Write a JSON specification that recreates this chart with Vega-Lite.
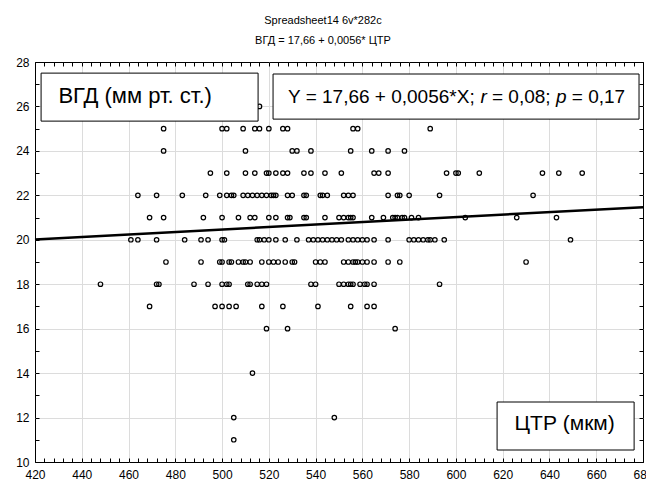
{
  "$schema": "https://vega.github.io/schema/vega-lite/v6.json",
  "width": 608,
  "height": 400,
  "autosize": {"type": "none"},
  "padding": {"left": 35, "top": 62, "right": 3, "bottom": 20},
  "config": {
    "font": "Liberation Sans",
    "view": {"stroke": "#000000", "strokeWidth": 1},
    "axis": {"domain": false, "labelFont": "Liberation Sans", "labelFontSize": 12, "labelColor": "#000000", "tickColor": "#000000", "gridColor": "#dcdcdc", "title": null}
  },
  "title": {
    "text": ["Spreadsheet14 6v*282c", "ВГД = 17,66 + 0,0056* ЦТР"],
    "font": "Liberation Sans",
    "fontSize": 11,
    "fontWeight": "normal",
    "color": "#000000",
    "lineHeight": 20,
    "anchor": "middle",
    "dx": -16,
    "offset": 10
  },
  "datasets": {
    "pts": [
      {"x":516,"y":26},
      {"x":475,"y":25},{"x":500,"y":25},{"x":502,"y":25},{"x":509,"y":25},{"x":514,"y":25},{"x":516,"y":25},{"x":520,"y":25},{"x":526,"y":25},{"x":528,"y":25},{"x":556,"y":25},{"x":558,"y":25},{"x":589,"y":25},
      {"x":475,"y":24},{"x":510,"y":24},{"x":530,"y":24},{"x":532,"y":24},{"x":538,"y":24},{"x":555,"y":24},{"x":564,"y":24},{"x":571,"y":24},{"x":578,"y":24},
      {"x":495,"y":23},{"x":502,"y":23},{"x":510,"y":23},{"x":514,"y":23},{"x":519,"y":23},{"x":520,"y":23},{"x":523,"y":23},{"x":526,"y":23},{"x":528,"y":23},{"x":535,"y":23},{"x":538,"y":23},{"x":544,"y":23},{"x":551,"y":23},{"x":565,"y":23},{"x":567,"y":23},{"x":571,"y":23},{"x":596,"y":23},{"x":600,"y":23},{"x":601,"y":23},{"x":610,"y":23},{"x":637,"y":23},{"x":644,"y":23},{"x":654,"y":23},
      {"x":464,"y":22},{"x":472,"y":22},{"x":483,"y":22},{"x":493,"y":22},{"x":499,"y":22},{"x":502,"y":22},{"x":504,"y":22},{"x":505,"y":22},{"x":509,"y":22},{"x":511,"y":22},{"x":513,"y":22},{"x":515,"y":22},{"x":517,"y":22},{"x":519,"y":22},{"x":521,"y":22},{"x":522,"y":22},{"x":523,"y":22},{"x":528,"y":22},{"x":530,"y":22},{"x":535,"y":22},{"x":536,"y":22},{"x":542,"y":22},{"x":543,"y":22},{"x":545,"y":22},{"x":552,"y":22},{"x":554,"y":22},{"x":556,"y":22},{"x":571,"y":22},{"x":575,"y":22},{"x":576,"y":22},{"x":580,"y":22},{"x":593,"y":22},{"x":633,"y":22},
      {"x":469,"y":21},{"x":475,"y":21},{"x":492,"y":21},{"x":500,"y":21},{"x":507,"y":21},{"x":512,"y":21},{"x":514,"y":21},{"x":520,"y":21},{"x":523,"y":21},{"x":528,"y":21},{"x":529,"y":21},{"x":535,"y":21},{"x":536,"y":21},{"x":544,"y":21},{"x":550,"y":21},{"x":552,"y":21},{"x":554,"y":21},{"x":555,"y":21},{"x":556,"y":21},{"x":564,"y":21},{"x":569,"y":21},{"x":573,"y":21},{"x":574,"y":21},{"x":575,"y":21},{"x":577,"y":21},{"x":578,"y":21},{"x":581,"y":21},{"x":584,"y":21},{"x":604,"y":21},{"x":626,"y":21},{"x":643,"y":21},
      {"x":461,"y":20},{"x":464,"y":20},{"x":472,"y":20},{"x":484,"y":20},{"x":491,"y":20},{"x":494,"y":20},{"x":500,"y":20},{"x":501,"y":20},{"x":515,"y":20},{"x":516,"y":20},{"x":518,"y":20},{"x":520,"y":20},{"x":523,"y":20},{"x":527,"y":20},{"x":532,"y":20},{"x":537,"y":20},{"x":539,"y":20},{"x":541,"y":20},{"x":543,"y":20},{"x":545,"y":20},{"x":547,"y":20},{"x":549,"y":20},{"x":551,"y":20},{"x":554,"y":20},{"x":556,"y":20},{"x":558,"y":20},{"x":560,"y":20},{"x":562,"y":20},{"x":565,"y":20},{"x":571,"y":20},{"x":580,"y":20},{"x":582,"y":20},{"x":584,"y":20},{"x":586,"y":20},{"x":588,"y":20},{"x":589,"y":20},{"x":591,"y":20},{"x":595,"y":20},{"x":649,"y":20},
      {"x":476,"y":19},{"x":491,"y":19},{"x":499,"y":19},{"x":500,"y":19},{"x":503,"y":19},{"x":504,"y":19},{"x":507,"y":19},{"x":509,"y":19},{"x":510,"y":19},{"x":512,"y":19},{"x":517,"y":19},{"x":520,"y":19},{"x":522,"y":19},{"x":524,"y":19},{"x":527,"y":19},{"x":530,"y":19},{"x":531,"y":19},{"x":540,"y":19},{"x":542,"y":19},{"x":544,"y":19},{"x":552,"y":19},{"x":554,"y":19},{"x":556,"y":19},{"x":557,"y":19},{"x":558,"y":19},{"x":560,"y":19},{"x":562,"y":19},{"x":565,"y":19},{"x":571,"y":19},{"x":576,"y":19},{"x":630,"y":19},
      {"x":448,"y":18},{"x":472,"y":18},{"x":473,"y":18},{"x":488,"y":18},{"x":494,"y":18},{"x":500,"y":18},{"x":502,"y":18},{"x":503,"y":18},{"x":511,"y":18},{"x":512,"y":18},{"x":515,"y":18},{"x":517,"y":18},{"x":519,"y":18},{"x":538,"y":18},{"x":540,"y":18},{"x":550,"y":18},{"x":552,"y":18},{"x":554,"y":18},{"x":555,"y":18},{"x":556,"y":18},{"x":559,"y":18},{"x":561,"y":18},{"x":562,"y":18},{"x":565,"y":18},{"x":593,"y":18},
      {"x":469,"y":17},{"x":497,"y":17},{"x":500,"y":17},{"x":503,"y":17},{"x":506,"y":17},{"x":517,"y":17},{"x":526,"y":17},{"x":541,"y":17},{"x":555,"y":17},{"x":562,"y":17},{"x":565,"y":17},
      {"x":519,"y":16},{"x":528,"y":16},{"x":574,"y":16},
      {"x":513,"y":14},
      {"x":505,"y":12},{"x":548,"y":12},
      {"x":505,"y":11}
    ],
    "fit": [{"x":420,"y":20.012},{"x":680,"y":21.468}],
    "one": [{}]
  },
  "resolve": {"axis": {"x": "independent", "y": "independent"}},
  "layer": [
    {
      "data": {"name": "pts"},
      "mark": {"type": "point", "shape": "circle", "filled": false, "stroke": "#000000", "strokeWidth": 1.2, "size": 20, "opacity": 1},
      "encoding": {
        "x": {"field": "x", "type": "quantitative",
          "scale": {"domain": [420, 680], "nice": false, "zero": false},
          "axis": {"orient": "bottom",
            "values": [420,424,428,432,436,440,444,448,452,456,460,464,468,472,476,480,484,488,492,496,500,504,508,512,516,520,524,528,532,536,540,544,548,552,556,560,564,568,572,576,580,584,588,592,596,600,604,608,612,616,620,624,628,632,636,640,644,648,652,656,660,664,668,672,676,680],
            "labelExpr": "datum.value % 20 === 0 ? datum.label : ''",
            "labelFlush": false, "labelOverlap": false,
            "grid": true,
            "gridOpacity": {"condition": {"test": "datum.value % 20 === 0 && datum.value > 420 && datum.value < 680", "value": 1}, "value": 0},
            "tickSize": -4, "labelPadding": 11}},
        "y": {"field": "y", "type": "quantitative",
          "scale": {"domain": [10, 28], "nice": false, "zero": false},
          "axis": {"orient": "left",
            "values": [10,11,12,13,14,15,16,17,18,19,20,21,22,23,24,25,26,27,28],
            "labelExpr": "datum.value % 2 === 0 ? datum.label : ''",
            "labelOverlap": false, "labelFlush": false,
            "grid": true,
            "gridOpacity": {"condition": {"test": "datum.value % 2 === 0 && datum.value > 10 && datum.value < 28", "value": 1}, "value": 0},
            "tickSize": -4, "labelPadding": 10}}
      }
    },
    {
      "data": {"name": "fit"},
      "mark": {"type": "line", "color": "#000000", "strokeWidth": 2.5},
      "encoding": {
        "x": {"field": "x", "type": "quantitative",
          "axis": {"orient": "top",
            "values": [420,424,428,432,436,440,444,448,452,456,460,464,468,472,476,480,484,488,492,496,500,504,508,512,516,520,524,528,532,536,540,544,548,552,556,560,564,568,572,576,580,584,588,592,596,600,604,608,612,616,620,624,628,632,636,640,644,648,652,656,660,664,668,672,676,680],
            "labels": false, "grid": false, "tickSize": -4}},
        "y": {"field": "y", "type": "quantitative",
          "axis": {"orient": "right",
            "values": [10,11,12,13,14,15,16,17,18,19,20,21,22,23,24,25,26,27,28],
            "labels": false, "grid": false, "tickSize": -4}}
      }
    },
    {
      "data": {"name": "one"},
      "mark": {"type": "rect", "fill": "#ffffff", "stroke": "#000000", "strokeWidth": 1},
      "encoding": {
        "x": {"datum": 422.6, "type": "quantitative", "axis": null},
        "x2": {"datum": 515.4},
        "y": {"datum": 27.5, "type": "quantitative", "axis": null},
        "y2": {"datum": 25.34}
      }
    },
    {
      "data": {"name": "one"},
      "mark": {"type": "rect", "fill": "#ffffff", "stroke": "#000000", "strokeWidth": 1},
      "encoding": {
        "x": {"datum": 521.8, "type": "quantitative", "axis": null},
        "x2": {"datum": 678.3},
        "y": {"datum": 27.46, "type": "quantitative", "axis": null},
        "y2": {"datum": 25.43}
      }
    },
    {
      "data": {"name": "one"},
      "mark": {"type": "rect", "fill": "#ffffff", "stroke": "#000000", "strokeWidth": 1},
      "encoding": {
        "x": {"datum": 617.6, "type": "quantitative", "axis": null},
        "x2": {"datum": 676.2},
        "y": {"datum": 12.7, "type": "quantitative", "axis": null},
        "y2": {"datum": 10.54}
      }
    },
    {
      "data": {"name": "one"},
      "mark": {"type": "text", "font": "Liberation Sans", "fontSize": 22, "align": "left", "baseline": "alphabetic", "color": "#000000"},
      "encoding": {
        "x": {"datum": 430, "type": "quantitative", "axis": null},
        "y": {"datum": 26.17, "type": "quantitative", "axis": null},
        "text": {"value": "ВГД (мм рт. ст.)"}
      }
    },
    {
      "data": {"name": "one"},
      "mark": {"type": "text", "font": "Liberation Sans", "fontSize": 19, "align": "left", "baseline": "alphabetic", "color": "#000000"},
      "encoding": {
        "x": {"datum": 528.2, "type": "quantitative", "axis": null},
        "y": {"datum": 26.15, "type": "quantitative", "axis": null},
        "text": {"value": "Y = 17,66 + 0,0056*X;"}
      }
    },
    {
      "data": {"name": "one"},
      "mark": {"type": "text", "font": "Liberation Sans", "fontSize": 19, "fontStyle": "italic", "align": "left", "baseline": "alphabetic", "color": "#000000"},
      "encoding": {
        "x": {"datum": 610.46, "type": "quantitative", "axis": null},
        "y": {"datum": 26.15, "type": "quantitative", "axis": null},
        "text": {"value": "r"}
      }
    },
    {
      "data": {"name": "one"},
      "mark": {"type": "text", "font": "Liberation Sans", "fontSize": 19, "align": "left", "baseline": "alphabetic", "color": "#000000"},
      "encoding": {
        "x": {"datum": 615.42, "type": "quantitative", "axis": null},
        "y": {"datum": 26.15, "type": "quantitative", "axis": null},
        "text": {"value": "= 0,08;"}
      }
    },
    {
      "data": {"name": "one"},
      "mark": {"type": "text", "font": "Liberation Sans", "fontSize": 19, "fontStyle": "italic", "align": "left", "baseline": "alphabetic", "color": "#000000"},
      "encoding": {
        "x": {"datum": 642.75, "type": "quantitative", "axis": null},
        "y": {"datum": 26.15, "type": "quantitative", "axis": null},
        "text": {"value": "p"}
      }
    },
    {
      "data": {"name": "one"},
      "mark": {"type": "text", "font": "Liberation Sans", "fontSize": 19, "align": "left", "baseline": "alphabetic", "color": "#000000"},
      "encoding": {
        "x": {"datum": 649.54, "type": "quantitative", "axis": null},
        "y": {"datum": 26.15, "type": "quantitative", "axis": null},
        "text": {"value": "= 0,17"}
      }
    },
    {
      "data": {"name": "one"},
      "mark": {"type": "text", "font": "Liberation Sans", "fontSize": 21, "align": "center", "baseline": "alphabetic", "color": "#000000"},
      "encoding": {
        "x": {"datum": 646.5, "type": "quantitative", "axis": null},
        "y": {"datum": 11.44, "type": "quantitative", "axis": null},
        "text": {"value": "ЦТР (мкм)"}
      }
    }
  ]
}
